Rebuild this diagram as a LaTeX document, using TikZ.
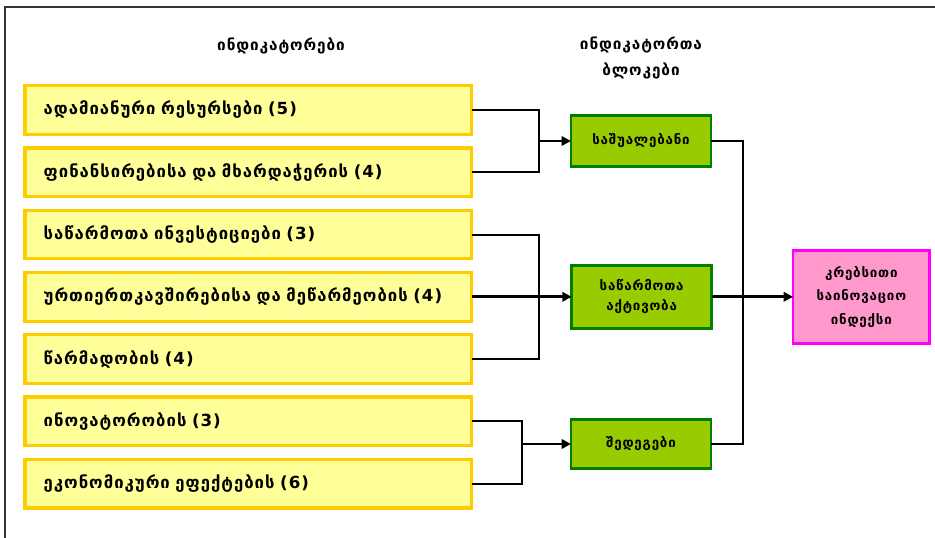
\documentclass[tikz,border=0pt]{standalone}
\usepackage{fontspec}
\setmainfont{DejaVu Sans}[LetterSpace=6]
\usetikzlibrary{positioning,arrows.meta}

\definecolor{indfill}{HTML}{FFFF99}
\definecolor{indline}{HTML}{FFCC00}
\definecolor{blkfill}{HTML}{99CC00}
\definecolor{blkline}{HTML}{008000}
\definecolor{sumfill}{HTML}{FF99CC}
\definecolor{sumline}{HTML}{FF00FF}

\begin{document}
\begin{tikzpicture}[x=0.75pt,y=-0.75pt,
    ind/.style={draw=indline, fill=indfill, line width=2.4pt, outer sep=0pt,
      text width=307pt, inner xsep=14pt, minimum height=36.5pt,
      align=left, font=\bfseries\fontsize{12.5}{14}\selectfont},
    blk/.style={draw=blkline, fill=blkfill, line width=2.2pt, outer sep=0pt,
      minimum width=105pt, align=center,
      font=\bfseries\fontsize{10}{15}\selectfont},
    sumbox/.style={draw=sumline, fill=sumfill, line width=2.2pt, outer sep=0pt,
      minimum width=102.5pt, minimum height=70pt, align=center,
      font=\bfseries\fontsize{10}{17.6}\selectfont},
    head/.style={align=center, font=\bfseries\fontsize{11.5}{20}\selectfont},
    link/.style={line width=1.5pt},
    flow/.style={line width=2.2pt},
    tip/.style={-{Triangle[length=7pt,width=7pt]}}]

  \useasboundingbox (0,0) rectangle (935,538);
  \draw[line width=1.2pt, black!80] (5,538) -- (5,7) -- (935,7);

  % headers
  \node[head] (h1) at (281,46) {ინდიკატორები};
  \node[head] (h2) at (641,58) {ინდიკატორთა\\ბლოკები};

  % indicators
  \node[ind, anchor=west] (y1) at (25,110) {ადამიანური რესურსები (5)};
  \node[ind, below=10.2pt of y1] (y2) {ფინანსირებისა და მხარდაჭერის (4)};
  \node[ind, below=10.2pt of y2] (y3) {საწარმოთა ინვესტიციები (3)};
  \node[ind, below=10.2pt of y3] (y4) {ურთიერთკავშირებისა და მეწარმეობის (4)};
  \node[ind, below=10.2pt of y4] (y5) {წარმადობის (4)};
  \node[ind, below=10.2pt of y5] (y6) {ინოვატორობის (3)};
  \node[ind, below=10.2pt of y6] (y7) {ეკონომიკური ეფექტების (6)};

  % blocks
  \node[blk, minimum height=38pt] (g1) at (641,141) {საშუალებანი};
  \node[blk, minimum height=47pt, right=75pt of y4] (g2) {საწარმოთა\\აქტივობა};
  \node[blk, minimum height=37pt] (g3) at (641,444) {შედეგები};
  \node[sumbox, right=61pt of g2] (p) {კრებსითი\\საინოვაციო\\ინდექსი};

  % connectors
  \coordinate (j1) at (539,141);
  \coordinate (j2) at (539,297);
  \coordinate (j3) at (522,444);
  \coordinate (r) at (743,297);

  \draw[link] (y1.east) -| (j1) |- (y2.east);
  \draw[link, tip] (j1) -- (g1.west);
  \draw[link] (y3.east) -| (j2) |- (y5.east);
  \draw[flow, tip] (y4.east) -- (g2.west);
  \draw[link] (y6.east) -| (j3) |- (y7.east);
  \draw[flow, tip] (j3) -- (g3.west);
  \draw[link] (g1.east) -| (r) |- (g3.east);
  \draw[flow, tip] (g2.east) -- (p.west);
\end{tikzpicture}
\end{document}
